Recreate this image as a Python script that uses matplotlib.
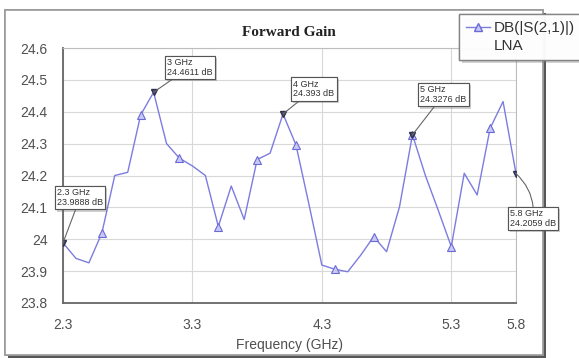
import matplotlib
matplotlib.use("Agg")
import matplotlib.pyplot as plt
import matplotlib.patheffects as pe
from matplotlib.lines import Line2D
from matplotlib.patches import Rectangle

# S21 sweep of the LNA, 0.1 GHz steps
freq_ghz = [2.3, 2.4, 2.5, 2.6, 2.7, 2.8, 2.9, 3.0, 3.1, 3.2, 3.3, 3.4,
            3.5, 3.6, 3.7, 3.8, 3.9, 4.0, 4.1, 4.2, 4.3, 4.4, 4.5, 4.6,
            4.7, 4.8, 4.9, 5.0, 5.1, 5.2, 5.3, 5.4, 5.5, 5.6, 5.7, 5.8]
gain_db = [23.9888, 23.94, 23.926, 24.019, 24.20, 24.21, 24.39, 24.4611,
           24.30, 24.254, 24.23, 24.20, 24.04, 24.167, 24.062, 24.25,
           24.27, 24.393, 24.296, 24.11, 23.919, 23.906, 23.898, 23.95,
           24.008, 23.961, 24.102, 24.3276, 24.20, 24.09, 23.977, 24.207,
           24.139, 24.348, 24.432, 24.2059]

# marker readouts
marker_freq = [2.3, 3.0, 4.0, 5.0, 5.8]
marker_gain = [23.9888, 24.4611, 24.393, 24.3276, 24.2059]
marker_text = ["2.3 GHz\n23.9888 dB", "3 GHz\n24.4611 dB", "4 GHz\n24.393 dB",
               "5 GHz\n24.3276 dB", "5.8 GHz\n24.2059 dB"]
marker_offset = [(17, 45), (36, 25), (31, 25), (31, 40), (17, -45)]

x_ticks = [2.3, 3.3, 4.3, 5.3, 5.8]
y_ticks = [23.8, 23.9, 24.0, 24.1, 24.2, 24.3, 24.4, 24.5, 24.6]

W, H = 579, 358
fig = plt.figure(figsize=(W / 100, H / 100), dpi=100)
ax = fig.add_axes([63 / W, 1 - 303 / H, (516 - 63) / W, (303 - 48) / H])

# outer frame with shadow, kept behind the axes
frame = Rectangle((5 / W, 3 / H), 538 / W, 345 / H, transform=fig.transFigure,
                  fc="white", ec="#9a9a9a", lw=1.2, zorder=-1)
frame.set_path_effects([pe.withSimplePatchShadow(offset=(2.5, -2), shadow_rgbFace="#444444",
                                                 alpha=0.9),
                        pe.Normal()])
fig.patches.append(frame)

line_color = "#7c7ce0"
ax.plot(freq_ghz, gain_db, color=line_color, lw=1.0, marker="^", markevery=(3, 3),
        ms=6, mfc="#c8c8f6", mec="#6a6ad4", mew=0.8, zorder=3)
ax.plot(marker_freq, marker_gain, ls="none", marker="v", ms=5,
        mfc="#505070", mec="#303050", zorder=4)

for fx, gy, txt, off in zip(marker_freq, marker_gain, marker_text, marker_offset):
    ann = ax.annotate(txt, xy=(fx, gy), xytext=off, textcoords="offset pixels",
                      ha="center", va="center", multialignment="left",
                      fontsize=6.5, color="#333333", family="Liberation Sans",
                      linespacing=1.1,
                      bbox=dict(boxstyle="square,pad=0.25", fc="white", ec="#555555", lw=0.8),
                      arrowprops=dict(arrowstyle="-", color="#666666", lw=0.8,
                                      shrinkA=0, shrinkB=0,
                                      connectionstyle="arc3,rad=0.25" if fx == 5.8 else "arc3"),
                      zorder=5, annotation_clip=False)
    ann.get_bbox_patch().set_path_effects(
        [pe.withSimplePatchShadow(offset=(1.5, -1.5), shadow_rgbFace="#666666"), pe.Normal()])

ax.set_xlim(2.3, 5.8)
ax.set_ylim(23.8, 24.6)
ax.set_xticks(x_ticks)
ax.set_xticklabels([f"{t:g}" for t in x_ticks])
ax.set_yticks(y_ticks)
ax.set_yticklabels([f"{t:g}" for t in y_ticks])
ax.tick_params(length=0, labelsize=10, colors="#505050", pad=11)
for lab in ax.get_xticklabels() + ax.get_yticklabels():
    lab.set_family("Liberation Sans")
ax.grid(True, color="#d8d8d8", lw=0.8)
ax.set_axisbelow(True)
for side in ["top", "right"]:
    ax.spines[side].set_color("#bdbdbd")
for side in ["left", "bottom"]:
    ax.spines[side].set_color("#666666")
    ax.spines[side].set_linewidth(1.3)

ax.set_xlabel("Frequency (GHz)", fontsize=10, family="Liberation Sans",
              color="#505050", labelpad=4)
fig.text(289 / W, 1 - 33 / H, "Forward Gain", ha="center", va="center",
         fontsize=11, fontweight="bold", family="Liberation Serif", color="#222222")

# legend box
handles = [Line2D([], [], color=line_color, lw=1.0, marker="^", ms=6,
                  mfc="#c8c8f6", mec="#6a6ad4"),
           Line2D([], [], ls="none")]
leg = fig.legend(handles, ["DB(|S(2,1)|)", "LNA"], loc="upper left",
                 bbox_to_anchor=(459 / W, 1 - 14 / H), frameon=True, fancybox=False,
                 shadow=False, handlelength=1.6, handletextpad=0.2, borderpad=0.45,
                 borderaxespad=0.0, labelspacing=0.3,
                 prop={"family": "Liberation Sans", "size": 11})
leg.get_frame().set_edgecolor("#777777")
leg.get_frame().set_linewidth(1.0)
leg.get_frame().set_path_effects(
    [pe.withSimplePatchShadow(offset=(2, -2), shadow_rgbFace="#777777"), pe.Normal()])
for t in leg.get_texts():
    t.set_color("#333333")

fig.savefig("out.png", dpi=100, facecolor="white")
